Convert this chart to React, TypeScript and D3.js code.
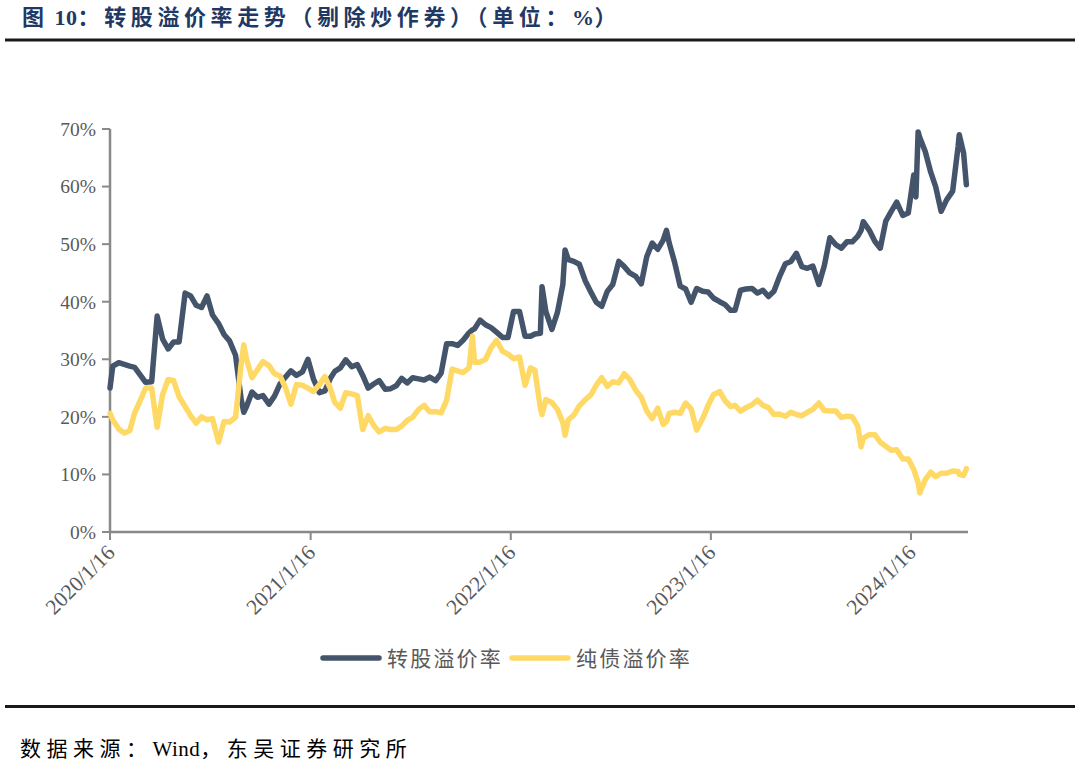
import React from "react";
import * as d3 from "d3";

const dates: string[] = [
  "2020-01-16","2020-01-21","2020-02-01","2020-02-11","2020-02-21","2020-03-01","2020-03-11","2020-03-21",
  "2020-04-01","2020-04-11","2020-04-21","2020-05-01","2020-05-11","2020-05-21","2020-06-01","2020-06-11",
  "2020-06-21","2020-07-01","2020-07-11","2020-07-21","2020-08-01","2020-08-11","2020-08-21","2020-09-01",
  "2020-09-11","2020-09-16","2020-09-21","2020-10-01","2020-10-11","2020-10-21","2020-11-01","2020-11-11",
  "2020-11-21","2020-12-01","2020-12-11","2020-12-21",
  "2021-01-01","2021-01-11","2021-01-21","2021-02-01","2021-02-11","2021-02-21","2021-03-01","2021-03-11",
  "2021-03-21","2021-04-01","2021-04-11","2021-04-21","2021-05-01","2021-05-11","2021-05-21","2021-06-01",
  "2021-06-11","2021-06-21","2021-07-01","2021-07-11","2021-07-21","2021-08-01","2021-08-11","2021-08-21",
  "2021-09-01","2021-09-11","2021-09-21","2021-10-01","2021-10-11","2021-10-21","2021-11-01","2021-11-07",
  "2021-11-11","2021-11-21","2021-12-01","2021-12-11","2021-12-21",
  "2022-01-01","2022-01-11","2022-01-21","2022-02-01","2022-02-11","2022-02-21","2022-03-01","2022-03-11",
  "2022-03-14","2022-03-21","2022-04-01","2022-04-11","2022-04-21","2022-04-25","2022-05-01","2022-05-11",
  "2022-05-21","2022-06-01","2022-06-11","2022-06-21","2022-07-01","2022-07-11","2022-07-21","2022-08-01",
  "2022-08-11","2022-08-21","2022-09-01","2022-09-11","2022-09-21","2022-10-01","2022-10-11","2022-10-21",
  "2022-10-27","2022-11-01","2022-11-11","2022-11-21","2022-12-01","2022-12-11","2022-12-21",
  "2023-01-01","2023-01-11","2023-01-21","2023-02-01","2023-02-11","2023-02-21","2023-03-01","2023-03-11",
  "2023-03-21","2023-04-01","2023-04-11","2023-04-21","2023-05-01","2023-05-11","2023-05-21","2023-06-01",
  "2023-06-11","2023-06-21","2023-07-01","2023-07-11","2023-07-21","2023-08-01","2023-08-11","2023-08-21",
  "2023-09-01","2023-09-11","2023-09-21","2023-10-01","2023-10-11","2023-10-17","2023-10-21","2023-11-01",
  "2023-11-11","2023-11-21","2023-12-01","2023-12-11","2023-12-21",
  "2024-01-01","2024-01-11","2024-01-21","2024-01-25","2024-01-29","2024-02-01","2024-02-11","2024-02-21",
  "2024-03-01","2024-03-11","2024-03-21","2024-04-01","2024-04-11","2024-04-13","2024-04-21","2024-04-26",
];

// 转股溢价率 (%)
const conversionPremium: number[] = [
  25.0, 28.8, 29.4, 29.1, 28.8, 28.6, 27.3, 26.0,
  26.1, 37.5, 33.5, 31.8, 33.0, 33.0, 41.5, 41.0,
  39.4, 39.0, 41.0, 37.7, 36.2, 34.3, 33.2, 30.7,
  23.2, 20.8, 21.8, 24.3, 23.4, 23.7, 22.2, 23.6,
  25.7, 26.9, 28.0, 27.2,
  27.8, 30.0, 26.6, 24.2, 24.5, 26.7, 27.9, 28.5,
  29.9, 28.7, 29.1, 27.2, 25.0, 25.7, 26.3, 24.8,
  24.9, 25.4, 26.7, 25.9, 26.8, 26.6, 26.4, 26.9,
  26.3, 27.6, 32.7, 32.7, 32.4, 33.3, 34.6, 35.1,
  35.3, 36.8, 36.0, 35.5, 34.7,
  33.8, 33.8, 38.3, 38.3, 34.0, 34.0, 34.4, 34.5,
  42.6, 38.3, 35.2, 38.1, 43.0, 49.0, 47.3, 47.0,
  46.5, 43.6, 41.7, 39.9, 39.2, 41.8, 43.0, 47.0,
  46.1, 45.0, 44.4, 43.1, 47.8, 50.2, 49.1, 50.7,
  52.4, 50.2, 46.8, 42.7, 42.2, 39.9, 42.3,
  41.8, 41.7, 40.6, 40.0, 39.5, 38.5, 38.5, 42.0,
  42.2, 42.3, 41.5, 42.0, 40.9, 41.8, 44.3, 46.6,
  47.0, 48.4, 46.1, 45.8, 46.2, 43.0, 46.3, 51.1,
  49.9, 49.3, 50.4, 50.4, 51.4, 52.4, 53.9, 52.4,
  50.5, 49.3, 54.0, 55.7, 57.3,
  55.0, 55.4, 62.0, 58.2, 69.5, 68.5, 66.1, 62.5,
  60.0, 55.7, 57.7, 59.2, 67.0, 69.0, 65.8, 60.3,
];

// 纯债溢价率 (%)
const bondPremium: number[] = [
  20.6, 19.5, 17.9, 17.2, 17.6, 20.7, 22.8, 25.0,
  25.0, 18.2, 23.9, 26.5, 26.3, 23.5, 21.8, 20.2,
  18.9, 20.0, 19.5, 19.7, 15.6, 19.2, 19.1, 19.9,
  29.0, 32.5, 30.0, 26.8, 28.2, 29.6, 28.9, 27.5,
  27.1, 25.1, 22.2, 25.6,
  25.5, 25.0, 24.4, 25.6, 27.0, 24.9, 22.5, 21.5,
  24.2, 24.0, 23.7, 17.8, 20.2, 18.5, 17.4, 18.0,
  17.8, 17.8, 18.4, 19.4, 19.9, 21.3, 22.0, 20.9,
  20.9, 20.7, 22.9, 28.3, 28.0, 27.7, 28.5, 34.0,
  29.5, 29.5, 30.0, 32.0, 33.3,
  31.4, 30.9, 30.1, 30.4, 25.5, 28.5, 28.1, 21.5,
  20.4, 23.0, 22.5, 21.3, 19.0, 16.8, 19.5, 20.3,
  21.9, 23.0, 23.8, 25.5, 26.8, 25.3, 26.1, 25.9,
  27.5, 26.5, 24.6, 23.4, 21.0, 19.7, 21.5, 18.7,
  19.2, 20.6, 20.8, 20.6, 22.4, 21.4, 17.7,
  19.7, 22.0, 23.9, 24.4, 22.8, 21.8, 22.0, 21.0,
  21.6, 22.1, 22.9, 22.0, 21.6, 20.4, 20.5, 20.1,
  20.8, 20.4, 20.2, 20.8, 21.3, 22.4, 21.1, 21.0,
  21.0, 19.9, 20.1, 20.0, 18.4, 14.8, 16.3, 16.9,
  16.9, 15.6, 14.9, 14.2, 14.3,
  12.7, 12.7, 10.9, 9.7, 8.6, 6.8, 9.1, 10.4,
  9.6, 10.2, 10.2, 10.6, 10.5, 10.0, 9.8, 11.0,
];

const xTickDates: string[] = ["2020-01-16", "2021-01-16", "2022-01-16", "2023-01-16", "2024-01-16"];
const xTickLabels: string[] = ["2020/1/16", "2021/1/16", "2022/1/16", "2023/1/16", "2024/1/16"];
const yTicks: number[] = [0, 10, 20, 30, 40, 50, 60, 70];
const seriesNames: string[] = ["转股溢价率", "纯债溢价率"];

// title and source split into CJK / Latin runs
const TITLE_PARTS: string[] = ["图", " 10", "：转股溢价率走势（剔除炒作券）（单位：", "%", "）"];
const SOURCE_PARTS: string[] = ["数据来源：", "Wind", "，东吴证券研究所"];

const COLORS = ["#44546A", "#FFD966"];
const CJK = "'Liberation Serif', 'Noto Sans CJK SC', serif";
const NUM = "'Liberation Serif', 'DejaVu Serif', serif";

const isLatin = (s: string) => /^[\x20-\x7e]+$/.test(s);

export default function App() {
  const W = 1080, H = 763;
  const parse = d3.timeParse("%Y-%m-%d");
  const x = d3
    .scaleTime()
    .domain([parse("2020-01-16")!, parse("2024-04-29")!])
    .range([110, 968]);
  const y = d3.scaleLinear().domain([0, 70]).range([532, 129]);

  const parsed = dates.map((d) => parse(d)!);
  const series = [conversionPremium, bondPremium];
  const line = d3
    .line<number>()
    .x((_, i) => x(parsed[i]))
    .y((v) => y(v));

  const axisColor = "#898989";
  const labelColor = "#595959";

  return (
    <div style={{ position: "absolute", left: 0, top: 0 }}>
      <svg width={W} height={H} style={{ display: "block", background: "#fff" }}>
        <text x={22} y={25} fontFamily={CJK} fontWeight="bold" fontSize={22} fill="#1F3864">
          {TITLE_PARTS.map((p, i) => (
            <tspan key={i} letterSpacing={isLatin(p) ? 0.5 : 4.6}>
              {p}
            </tspan>
          ))}
        </text>
        <line x1={5} x2={1075} y1={40} y2={40} stroke="#1a1a1a" strokeWidth={3} />

        {/* y axis */}
        <line x1={110} x2={110} y1={y(70)} y2={y(0)} stroke={axisColor} strokeWidth={2.5} />
        {yTicks.map((t) => (
          <g key={t}>
            <line x1={102} x2={110} y1={y(t)} y2={y(t)} stroke={axisColor} strokeWidth={2} />
            <text
              x={96}
              y={y(t)}
              dy="0.35em"
              textAnchor="end"
              fontFamily={NUM}
              fontSize={19.5}
              fill={labelColor}
            >
              {`${t}%`}
            </text>
          </g>
        ))}

        {/* x axis */}
        <line x1={110} x2={968} y1={y(0)} y2={y(0)} stroke={axisColor} strokeWidth={2.5} />
        {xTickDates.map((d, i) => {
          const px = x(parse(d)!);
          return (
            <g key={d}>
              <line x1={px} x2={px} y1={y(0)} y2={y(0) + 8} stroke={axisColor} strokeWidth={2} />
              <text
                transform={`translate(${px + 6},${y(0) + 22}) rotate(-45)`}
                textAnchor="end"
                fontFamily={NUM}
                fontSize={21.5}
                fill={labelColor}
              >
                {xTickLabels[i]}
              </text>
            </g>
          );
        })}

        {/* lines */}
        {series.map((s, k) => (
          <path
            key={k}
            d={line(s) || ""}
            fill="none"
            stroke={COLORS[k]}
            strokeWidth={5.5}
            strokeLinejoin="round"
            strokeLinecap="round"
          />
        ))}

        {/* legend */}
        {seriesNames.map((n, k) => {
          const lx = k === 0 ? 323 : 512;
          return (
            <g key={n}>
              <line
                x1={lx}
                x2={lx + 56}
                y1={658}
                y2={658}
                stroke={COLORS[k]}
                strokeWidth={5.5}
                strokeLinecap="round"
              />
              <text
                x={lx + 64}
                y={658}
                dy="0.36em"
                fontFamily={CJK}
                fontSize={21}
                letterSpacing={2.2}
                fill={labelColor}
              >
                {n}
              </text>
            </g>
          );
        })}

        <line x1={5} x2={1075} y1={706.5} y2={706.5} stroke="#1a1a1a" strokeWidth={3} />
        <text x={20} y={756} fontFamily={CJK} fontSize={21} fill="#000">
          {SOURCE_PARTS.map((p, i) => (
            <tspan key={i} letterSpacing={isLatin(p) ? 0.5 : 5.5}>
              {p}
            </tspan>
          ))}
        </text>
      </svg>
    </div>
  );
}
